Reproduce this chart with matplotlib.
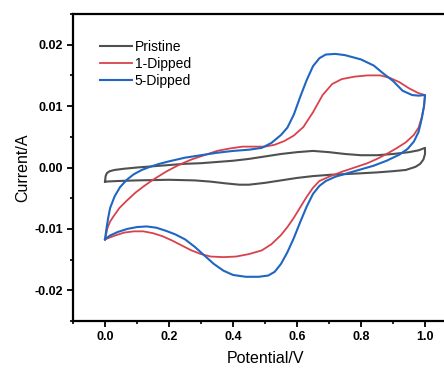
import numpy as np
import matplotlib
matplotlib.use('Agg')
import matplotlib.pyplot as plt
from matplotlib.ticker import MultipleLocator, FormatStrFormatter

plt.rcParams['font.family'] = ['Liberation Sans', 'DejaVu Sans']
plt.rcParams['axes.unicode_minus'] = False

# 5-Dipped: forward sweep then reverse sweep
dip5_v = [0.0, 0.005, 0.01, 0.016, 0.03, 0.047, 0.068, 0.09, 0.115, 0.14, 0.17, 0.2, 0.25, 0.3,
          0.35, 0.4, 0.45, 0.49, 0.52, 0.55, 0.57, 0.59, 0.61, 0.63, 0.65, 0.67, 0.69, 0.72, 0.75,
          0.8, 0.84, 0.87, 0.9, 0.93, 0.96, 0.98, 1.0,
          0.997, 0.99, 0.98, 0.965, 0.945, 0.92, 0.88, 0.84, 0.8, 0.76, 0.72, 0.69, 0.67, 0.65,
          0.63, 0.61, 0.59, 0.57, 0.55, 0.53, 0.51, 0.48, 0.44, 0.4, 0.37, 0.34, 0.31, 0.28, 0.25,
          0.22, 0.19, 0.16, 0.13, 0.1, 0.07, 0.04, 0.015, 0.0]
dip5_i = [-0.0117, -0.0098, -0.0082, -0.0066, -0.0047, -0.0032, -0.0020, -0.0011, -0.0004, 0.0001,
          0.0006, 0.0010, 0.0016, 0.0020, 0.0024, 0.0027, 0.0029, 0.0032, 0.0040, 0.0053, 0.0065,
          0.0086, 0.0115, 0.0142, 0.0165, 0.0178, 0.0184, 0.0185, 0.0183, 0.0176, 0.0166, 0.0153,
          0.0141, 0.0125, 0.0118, 0.0117, 0.0118,
          0.0100, 0.0080, 0.0058, 0.0042, 0.0030, 0.0021, 0.0011, 0.0003, -0.0003, -0.0009, -0.0015,
          -0.0022, -0.0030, -0.0043, -0.0064, -0.0089, -0.0115, -0.0138, -0.0157, -0.0170, -0.0176,
          -0.0178, -0.0178, -0.0175, -0.0168, -0.0157, -0.0143, -0.0129, -0.0117, -0.0109, -0.0103,
          -0.0098, -0.0096, -0.0097, -0.0100, -0.0105, -0.0111, -0.0117]

# 1-Dipped
dip1_v = [0.0, 0.008, 0.016, 0.026, 0.045, 0.068, 0.095, 0.12, 0.15, 0.19, 0.23, 0.27, 0.31, 0.35,
          0.39, 0.43, 0.47, 0.5, 0.53, 0.56, 0.59, 0.62, 0.65, 0.68, 0.71, 0.74, 0.78, 0.82, 0.86,
          0.89, 0.92, 0.95, 0.98, 1.0,
          0.997, 0.99, 0.98, 0.965, 0.94, 0.91, 0.88, 0.85, 0.82, 0.78, 0.74, 0.7, 0.67, 0.65, 0.63,
          0.61, 0.59, 0.57, 0.55, 0.52, 0.49, 0.45, 0.41, 0.37, 0.33, 0.3, 0.27, 0.24, 0.21, 0.18,
          0.15, 0.12, 0.09, 0.06, 0.03, 0.0]
dip1_i = [-0.0117, -0.0098, -0.0088, -0.0080, -0.0066, -0.0054, -0.0041, -0.0031, -0.0020, -0.0007,
          0.0004, 0.0013, 0.0020, 0.0027, 0.0031, 0.0034, 0.0034, 0.0034, 0.0037, 0.0043, 0.0052,
          0.0066, 0.0090, 0.0118, 0.0136, 0.0144, 0.0148, 0.0150, 0.0150, 0.0146, 0.0139, 0.0129,
          0.0121, 0.0118,
          0.0100, 0.0082, 0.0065, 0.0053, 0.0041, 0.0031, 0.0022, 0.0014, 0.0007, 0.0000, -0.0007,
          -0.0015, -0.0022, -0.0033, -0.0048, -0.0065, -0.0082, -0.0097, -0.0110, -0.0125, -0.0135,
          -0.0141, -0.0145, -0.0146, -0.0145, -0.0141, -0.0135, -0.0127, -0.0119, -0.0112, -0.0107,
          -0.0104, -0.0104, -0.0106, -0.0111, -0.0117]

# Pristine
pri_v = [0.0, 0.002, 0.006, 0.015, 0.03, 0.06, 0.1, 0.15, 0.2, 0.25, 0.3, 0.35, 0.4, 0.45, 0.5,
         0.55, 0.6, 0.65, 0.7, 0.75, 0.8, 0.85, 0.9, 0.95, 0.98, 1.0,
         1.0, 0.995, 0.985, 0.97, 0.94, 0.9, 0.85, 0.78, 0.7, 0.65, 0.6, 0.55, 0.5, 0.45, 0.42,
         0.38, 0.33, 0.28, 0.2, 0.1, 0.04, 0.0]
pri_i = [-0.0023, -0.0014, -0.0009, -0.0006, -0.0004, -0.0002, 0.0000, 0.0002, 0.0004, 0.0006,
         0.0007, 0.0009, 0.0011, 0.0014, 0.0018, 0.0022, 0.0025, 0.0027, 0.0025, 0.0022, 0.0020,
         0.0020, 0.0022, 0.0025, 0.0028, 0.0032,
         0.0022, 0.0013, 0.0006, 0.0001, -0.0004, -0.0006, -0.0008, -0.0010, -0.0012, -0.0014,
         -0.0017, -0.0021, -0.0025, -0.0028, -0.0028, -0.0026, -0.0023, -0.0021, -0.0020, -0.0021,
         -0.0022, -0.0023]

fig = plt.figure(figsize=(4.44, 3.70), dpi=100)
ax = fig.add_axes([73 / 444, 49 / 370, 384 / 444, 307 / 370])

ax.plot(pri_v, pri_i, color='#505050', lw=1.5, label='Pristine')
ax.plot(dip1_v, dip1_i, color='#d8424c', lw=1.3, label='1-Dipped')
ax.plot(dip5_v, dip5_i, color='#1f66c3', lw=1.5, label='5-Dipped')

ax.set_xlim(-0.1, 1.1)
ax.set_ylim(-0.025, 0.025)
ax.xaxis.set_major_locator(MultipleLocator(0.2))
ax.xaxis.set_minor_locator(MultipleLocator(0.1))
ax.yaxis.set_major_locator(MultipleLocator(0.01))
ax.yaxis.set_minor_locator(MultipleLocator(0.005))
ax.xaxis.set_major_formatter(FormatStrFormatter('%.1f'))
ax.yaxis.set_major_formatter(FormatStrFormatter('%.2f'))
ax.set_xticks([0.0, 0.2, 0.4, 0.6, 0.8, 1.0])

ax.tick_params(which='major', direction='out', length=4, width=1.3, labelsize=9, pad=3)
ax.tick_params(which='minor', direction='out', length=2.5, width=1.2)
ax.tick_params(top=False, right=False, which='both')
for lab in ax.get_xticklabels() + ax.get_yticklabels():
    lab.set_fontweight('bold')
for s in ax.spines.values():
    s.set_linewidth(1.6)

ax.set_xlabel('Potential/V', fontsize=11.5, labelpad=6)
ax.set_ylabel('Current/A', fontsize=11.5, labelpad=3)

ax.legend(loc='upper left', bbox_to_anchor=(-0.0156, 0.0208), bbox_transform=ax.transData,
          frameon=False, fontsize=10, handlelength=2.3, handletextpad=0.2, labelspacing=0.22,
          borderpad=0, borderaxespad=0)

fig.savefig('out.png', dpi=100)
